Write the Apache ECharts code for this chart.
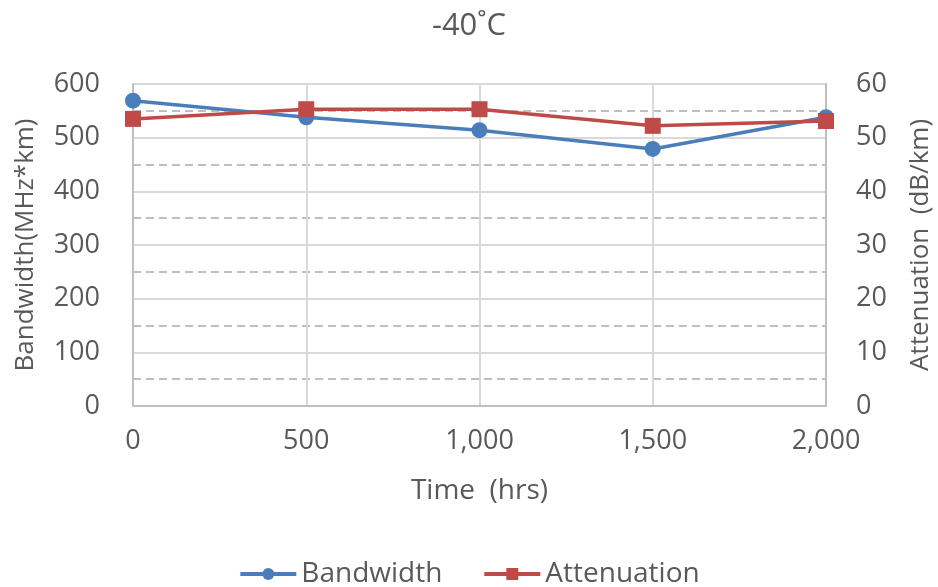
<!DOCTYPE html>
<html>
<head>
<meta charset="utf-8">
<script src="https://cdn.jsdelivr.net/npm/echarts@6/dist/echarts.min.js"></script>
<style>
  html, body { margin: 0; padding: 0; background: #fff; }
  #chart { width: 938px; height: 587px; }
</style>
</head>
<body>
<div id="chart"></div>
<script>
// time (hrs)
const hours = [0, 500, 1000, 1500, 2000]
// MHz*km
const bandwidth = [569, 538, 514, 479, 538]
// dB/km
const attenuation = [53.5, 55.3, 55.3, 52.2, 53.1]

const textColor = '#595959'
const font = '"Open Sans", "Noto Sans", sans-serif'

const chart = echarts.init(document.getElementById('chart'))
chart.setOption({
  animation: false,
  textStyle: { fontFamily: font, color: textColor },
  title: {
    text: '-40˚C',
    left: 'center',
    top: 6,
    textStyle: { fontFamily: font, fontSize: 31, fontWeight: 'normal', color: textColor }
  },
  legend: {
    bottom: -6,
    left: 'center',
    itemWidth: 56,
    itemHeight: 15,
    itemGap: 40,
    lineStyle: { width: 4 },
    textStyle: { fontFamily: font, fontSize: 28, color: textColor },
    data: ['Bandwidth', 'Attenuation']
  },
  grid: { left: 133, right: 112, top: 84, bottom: 181, outerBoundsMode: 'none' },
  xAxis: {
    type: 'value',
    min: 0,
    max: 2000,
    interval: 500,
    name: 'Time  (hrs)',
    nameLocation: 'middle',
    nameGap: 71,
    nameTextStyle: { fontFamily: font, fontSize: 28, color: textColor },
    axisLine: { show: true, lineStyle: { color: '#bfbfbf', width: 2 } },
    axisTick: { show: false },
    axisLabel: {
      fontSize: 27,
      color: textColor,
      margin: 22,
      formatter: v => v.toLocaleString('en-US')
    },
    splitLine: { show: true, lineStyle: { color: '#d9d9d9', width: 2 } }
  },
  yAxis: [{
    type: 'value',
    min: 0,
    max: 600,
    interval: 100,
    name: 'Bandwidth(MHz*km)',
    nameLocation: 'middle',
    nameGap: 94,
    nameRotate: 90,
    nameTextStyle: { fontFamily: font, fontSize: 26, color: textColor },
    axisLine: { show: true, lineStyle: { color: '#bfbfbf', width: 2 } },
    axisTick: { show: false },
    axisLabel: { fontSize: 27, color: textColor, margin: 33 },
    splitLine: { show: true, lineStyle: { color: '#d9d9d9', width: 2 } },
    minorTick: { show: false, splitNumber: 2 },
    minorSplitLine: { show: true, lineStyle: { color: '#bfbfbf', width: 2, type: [8, 5] } }
  }, {
    type: 'value',
    min: 0,
    max: 60,
    interval: 10,
    name: 'Attenuation  (dB/km)',
    nameLocation: 'middle',
    nameGap: 82,
    nameRotate: 90,
    nameTextStyle: { fontFamily: font, fontSize: 26, color: textColor },
    axisLine: { show: true, lineStyle: { color: '#bfbfbf', width: 2 } },
    axisTick: { show: false },
    axisLabel: { fontSize: 27, color: textColor, margin: 30 },
    splitLine: { show: false }
  }],
  series: [{
    name: 'Bandwidth',
    type: 'line',
    yAxisIndex: 0,
    data: hours.map((h, i) => [h, bandwidth[i]]),
    symbol: 'circle',
    symbolSize: 16,
    color: '#4a7ebb',
    lineStyle: { width: 3.5, color: '#4a7ebb' },
    itemStyle: { color: '#4a7ebb' }
  }, {
    name: 'Attenuation',
    type: 'line',
    yAxisIndex: 1,
    data: hours.map((h, i) => [h, attenuation[i]]),
    symbol: 'rect',
    symbolSize: 16,
    color: '#be4b48',
    lineStyle: { width: 3.5, color: '#be4b48' },
    itemStyle: { color: '#be4b48' }
  }]
})
</script>
</body>
</html>
